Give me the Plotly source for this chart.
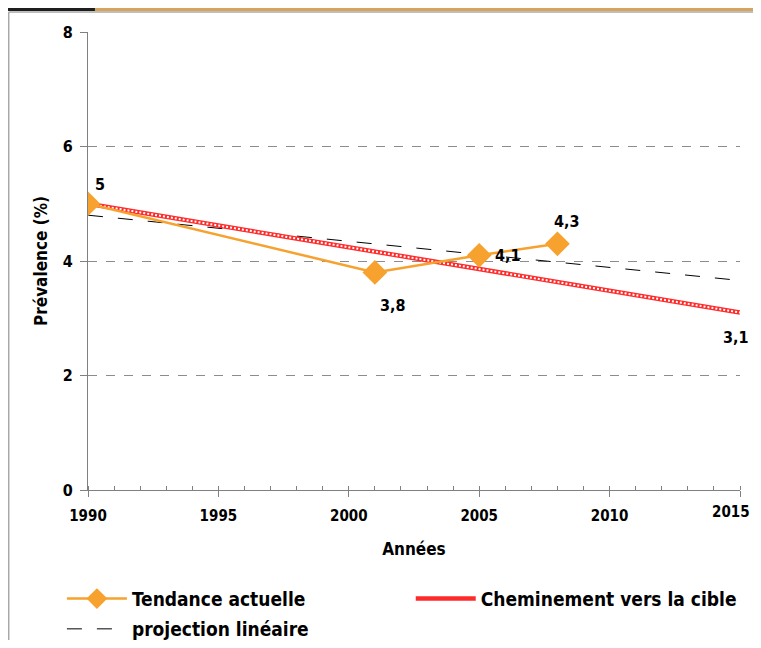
import plotly.graph_objects as go

# Data
annees_tendance = [1990, 2001, 2005, 2008]
valeurs_tendance = [5, 3.8, 4.1, 4.3]
labels_tendance = ["5", "3,8", "4,1", "4,3"]

annees_cible = [1990, 2015]
valeurs_cible = [5, 3.1]
label_cible = "3,1"

annees_projection = [1990, 2015]
valeurs_projection = [4.8, 3.66]

x_ticks = [1990, 1995, 2000, 2005, 2010, 2015]
x_tick_labels = ["1990", "1995", "2000", "2005", "2010", "2015"]
y_ticks = [0, 2, 4, 6, 8]

FONT = "DejaVu Sans Condensed, Liberation Sans Narrow, Arial Narrow, Liberation Sans"
BOLD = dict(family=FONT, size=16, color="black", weight="bold")
XTICK_FONT = dict(family=FONT, size=15, color="black", weight="bold")
LEG_FONT = dict(family=FONT, size=19, color="black", weight="bold")

fig = go.Figure()

# projection linéaire (second row of the legend)
fig.add_trace(go.Scatter(
    x=annees_projection, y=valeurs_projection, mode="lines",
    name="projection linéaire", legend="legend2",
    line=dict(color="black", width=1, dash="longdash"),
))

# Cheminement vers la cible: red line with white dotted core
fig.add_trace(go.Scatter(
    x=annees_cible, y=valeurs_cible, mode="lines",
    name="Cheminement vers la cible", legend="legend3",
    line=dict(color="#ff2a2a", width=4.5),
))
fig.add_trace(go.Scatter(
    x=annees_cible, y=valeurs_cible, mode="lines",
    showlegend=False, hoverinfo="skip",
    line=dict(color="white", width=2, dash="2px,2px"),
))

# Tendance actuelle
fig.add_trace(go.Scatter(
    x=annees_tendance, y=valeurs_tendance, mode="lines+markers",
    name="Tendance actuelle",
    line=dict(color="#f7a12e", width=2.5),
    marker=dict(symbol="diamond", size=19, color="#f7a12e"),
))

# Data labels
offsets = [(12, -19), (18, 33), (29, 0), (10, -22)]
for x, y, t, (dx, dy) in zip(annees_tendance, valeurs_tendance, labels_tendance, offsets):
    fig.add_annotation(x=x, y=y, text=t, showarrow=False, xshift=dx, yshift=-dy, font=BOLD)
fig.add_annotation(x=annees_cible[-1], y=valeurs_cible[-1], text=label_cible, showarrow=False,
                   xshift=-4, yshift=-25, font=BOLD)

# Last x tick label drawn right-aligned so it stays inside the visible page
fig.add_annotation(x=x_ticks[-1], y=0, yref="paper", text=x_tick_labels[-1], showarrow=False,
                   xanchor="right", yanchor="top", xshift=12, yshift=-11, font=XTICK_FONT)

# Decorative frame and top band (page has an 8px body margin)
shapes = [
    dict(type="line", xref="paper", yref="paper", x0=-0.1216, x1=1.05, y0=1.0437, y1=1.0437,
         line=dict(color="#a8a8a8", width=1.5)),
    dict(type="line", xref="paper", yref="paper", x0=-0.1216, x1=-0.1216, y0=1.0437, y1=-0.35,
         line=dict(color="#a8a8a8", width=1.5)),
    dict(type="rect", xref="paper", yref="paper", x0=-0.13, x1=0.0107, y0=1.0459, y1=1.06,
         fillcolor="#1e1e1e", line=dict(width=0)),
    dict(type="rect", xref="paper", yref="paper", x0=0.0107, x1=1.05, y0=1.0459, y1=1.06,
         fillcolor="#d8a35a", line=dict(width=0)),
]

leg_common = dict(orientation="h", xanchor="left", yanchor="top",
                  font=LEG_FONT, itemwidth=60, bgcolor="rgba(0,0,0,0)")

fig.update_layout(
    width=745, height=632,
    margin=dict(l=80, r=13, t=24, b=150, autoexpand=False),
    paper_bgcolor="white", plot_bgcolor="white",
    font=BOLD,
    shapes=shapes,
    showlegend=True,
    legend=dict(x=-0.04, y=-0.196, **leg_common),
    legend3=dict(x=0.495, y=-0.196, **leg_common),
    legend2=dict(x=-0.04, y=-0.262, **leg_common),
    xaxis=dict(
        range=[1990, 2015], tickvals=x_ticks, ticktext=x_tick_labels[:-1] + [""],
        showgrid=False, automargin=False,
        showline=True, linecolor="#808080", linewidth=1,
        ticks="outside", ticklen=6, tickcolor="#808080", ticklabelstandoff=6,
        minor=dict(dtick=1, ticks="inside", ticklen=4, tickcolor="#808080", showgrid=False),
        tickfont=XTICK_FONT, zeroline=False,
        title=dict(text="Années", font=dict(family=FONT, size=17, weight="bold"), standoff=19),
    ),
    yaxis=dict(
        range=[0, 8], tickvals=y_ticks, showgrid=True, automargin=False,
        gridcolor="#8c8c8c", griddash="dash", gridwidth=1,
        showline=True, linecolor="#808080", linewidth=1,
        ticks="outside", ticklen=7, tickcolor="#808080", ticklabelstandoff=4,
        tickfont=BOLD, zeroline=False,
        title=dict(text="Prévalence (%)", font=dict(family=FONT, size=17, weight="bold"), standoff=10),
    ),
)

fig.write_html("out.html")
